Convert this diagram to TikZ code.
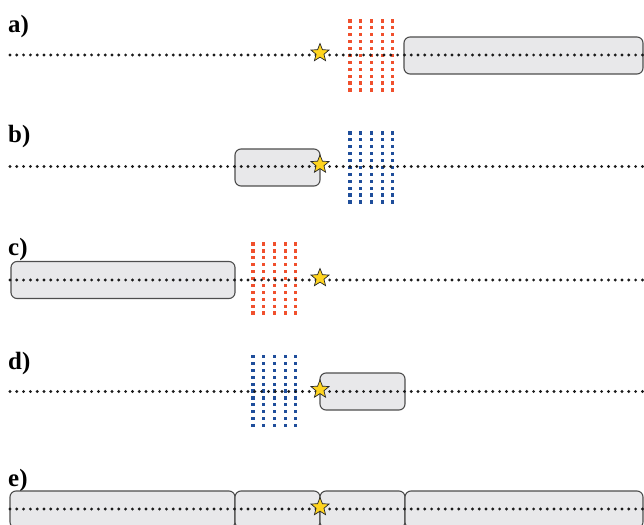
\documentclass[tikz,border=0pt]{standalone}
\usepackage{fontspec}
\setmainfont{Liberation Serif}
\usetikzlibrary{shapes.geometric}
\definecolor{gridred}{HTML}{F0502D}
\definecolor{gridblue}{HTML}{1F4E9B}
\definecolor{boxfill}{HTML}{E8E8EA}
\definecolor{boxline}{HTML}{4D4D4D}
\definecolor{staryellow}{HTML}{FFD41F}
\definecolor{dotcol}{HTML}{1A1A1A}
\newcommand\sqgrid[3]{%
  \foreach \ci in {0,...,4}{\foreach \rj in {-5,...,5}{%
    \fill[#3] ({#1+\ci*10.7-1.6},{#2+\rj*6.9-1.6}) rectangle +(3.2,3.2);}}}
\begin{document}
\begin{tikzpicture}[x=1bp,y=-1bp,
  gbox/.style={draw=boxline, fill=boxfill, line width=1.1bp, rounded corners=6bp,
    inner sep=0pt, outer sep=0pt, minimum height=37bp},
  dotline/.style={line width=3.2bp, line cap=round, dash pattern=on 0bp off 6.8bp, color=dotcol},
  starmark/.style={star, star points=5, star point ratio=2.3, minimum size=19bp,
    inner sep=0pt, fill=staryellow, draw=black!85, line width=0.7bp},
  lab/.style={font=\fontsize{25}{25}\selectfont\bfseries, anchor=base west, inner sep=0pt}
]
\useasboundingbox (0,0) rectangle (644,525);
\clip (0,0) rectangle (644,525);

% labels
\node[lab] (la) at (8,33) {a)};
\node[lab] (lb) at (8,143) {b)};
\node[lab] (lc) at (8,256) {c)};
\node[lab] (ld) at (8,369) {d)};
\node[lab] (le) at (8,486) {e)};

% ---- panel a
\node[gbox, minimum width=239bp] (abox) at (523.5,55.5) {};
\sqgrid{350}{55.5}{gridred}
\coordinate (a0) at (10,55);
\coordinate (a1) at (648,55);
\draw[dotline] (a0) -- (a1);
\node[starmark] (astar) at (320,53) {};

% ---- panel b
\node[gbox, minimum width=85bp] (bbox) at (277.5,167.5) {};
\sqgrid{350}{167.5}{gridblue}
\coordinate (b0) at (10,166.5);
\coordinate (b1) at (648,166.5);
\draw[dotline] (b0) -- (b1);
\node[starmark] (bstar) at (320,164.5) {};

% ---- panel c
\node[gbox, minimum width=224bp] (cbox) at (123,280) {};
\sqgrid{253}{278.5}{gridred}
\coordinate (c0) at (10,280);
\coordinate (c1) at (648,280);
\draw[dotline] (c0) -- (c1);
\node[starmark] (cstar) at (320,278) {};

% ---- panel d
\node[gbox, minimum width=85bp] (dbox) at (362.5,391.5) {};
\sqgrid{253}{391}{gridblue}
\coordinate (d0) at (10,391.5);
\coordinate (d1) at (648,391.5);
\draw[dotline] (d0) -- (d1);
\node[starmark] (dstar) at (320,389.5) {};

% ---- panel e
\node[gbox, minimum width=225bp] (ebox1) at (122.5,509.5) {};
\node[gbox, minimum width=85bp] (ebox2) at (277.5,509.5) {};
\node[gbox, minimum width=85bp] (ebox3) at (362.5,509.5) {};
\node[gbox, minimum width=238bp] (ebox4) at (524,509.5) {};
\coordinate (e0) at (10,509);
\coordinate (e1) at (648,509);
\draw[dotline] (e0) -- (e1);
\node[starmark] (estar) at (320,507) {};
\end{tikzpicture}
\end{document}
